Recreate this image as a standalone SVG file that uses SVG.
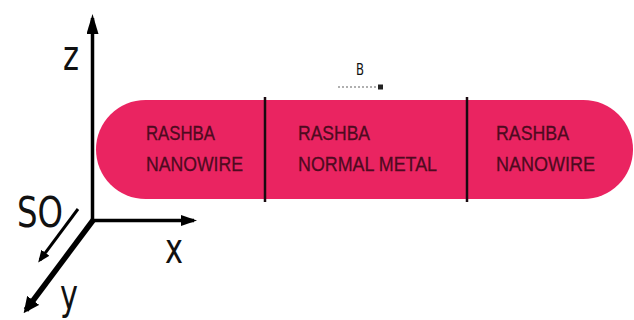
<svg xmlns="http://www.w3.org/2000/svg" width="634" height="320" viewBox="0 0 634 320">
  <style>
    .axis { stroke: #000; stroke-linecap: butt; fill: none; }
    .lbl { font-family: "DejaVu Sans", "Liberation Sans", sans-serif; fill: #111; font-size: 42px; }
    .seg { font-family: "Liberation Sans", Arial, sans-serif; font-size: 21px; fill: #4e0a20; stroke: #4e0a20; stroke-width: 0.3; }
    .div { stroke: #1a0a10; stroke-width: 2.5; }
  </style>
  <defs>
    <!-- arrowheads sized in user units -->
    <marker id="ahz" viewBox="0 0 20 12" refX="16" refY="6" markerWidth="20" markerHeight="12" orient="auto" markerUnits="userSpaceOnUse">
      <path d="M0,0 L20,6 L0,12 Z" fill="#000"/>
    </marker>
    <marker id="ahx" viewBox="0 0 16 11" refX="13" refY="5.5" markerWidth="16" markerHeight="11" orient="auto" markerUnits="userSpaceOnUse">
      <path d="M0,0 L16,5.5 L0,11 Z" fill="#000"/>
    </marker>
    <marker id="ahy" viewBox="0 0 16 15" refX="12" refY="7.5" markerWidth="16" markerHeight="15" orient="auto" markerUnits="userSpaceOnUse">
      <path d="M0,0 L16,7.5 L0,15 Z" fill="#000"/>
    </marker>
    <marker id="ahso" viewBox="0 0 12 10" refX="9" refY="5" markerWidth="12" markerHeight="10" orient="auto" markerUnits="userSpaceOnUse">
      <path d="M0,0 L12,5 L0,10 Z" fill="#000"/>
    </marker>
  </defs>
  <rect width="634" height="320" fill="#ffffff"/>

  <!-- wire: three segments in one rounded bar -->
  <g id="wire">
    <rect x="96" y="100" width="537" height="99" rx="49.5" ry="49.5" fill="#ea2461"/>
  </g>
  <g id="left-nanowire">
    <text class="seg" x="146" y="140" textLength="69" lengthAdjust="spacingAndGlyphs">RASHBA</text>
    <text class="seg" x="146" y="171" textLength="97" lengthAdjust="spacingAndGlyphs">NANOWIRE</text>
  </g>
  <g id="normal-metal">
    <text class="seg" x="298" y="140" textLength="72" lengthAdjust="spacingAndGlyphs">RASHBA</text>
    <text class="seg" x="298" y="171" textLength="139" lengthAdjust="spacingAndGlyphs">NORMAL METAL</text>
  </g>
  <g id="right-nanowire">
    <text class="seg" x="496" y="140" textLength="73" lengthAdjust="spacingAndGlyphs">RASHBA</text>
    <text class="seg" x="496" y="171" textLength="99" lengthAdjust="spacingAndGlyphs">NANOWIRE</text>
  </g>

  <!-- field label -->
  <g id="field">
    <text x="356" y="75" font-family="DejaVu Sans, sans-serif" font-size="16" fill="#111" textLength="8" lengthAdjust="spacingAndGlyphs">B</text>
    <line x1="338" y1="87" x2="378" y2="87" stroke="#b0b0b0" stroke-width="2" stroke-dasharray="2 2"/>
    <rect x="378" y="84.5" width="5" height="5" fill="#222"/>
  </g>

  <g id="connectors">
    <!-- interfaces between segments -->
    <line class="div" x1="265" y1="97" x2="265" y2="202"/>
    <line class="div" x1="467" y1="97" x2="467" y2="202"/>
    <!-- coordinate axes -->
    <line class="axis" x1="92.5" y1="222" x2="92.5" y2="18" stroke-width="3.5" marker-end="url(#ahz)"/>
    <line class="axis" x1="91" y1="220.5" x2="194" y2="220.5" stroke-width="3.5" marker-end="url(#ahx)"/>
    <line class="axis" x1="94" y1="219" x2="26" y2="310" stroke-width="5.5" marker-end="url(#ahy)"/>
    <line class="axis" x1="78" y1="209" x2="40" y2="260" stroke-width="3" marker-end="url(#ahso)"/>
  </g>

  <g id="axis-labels">
    <text class="lbl" x="63" y="70" textLength="16" lengthAdjust="spacingAndGlyphs">z</text>
    <text class="lbl" x="17" y="227" textLength="46" lengthAdjust="spacingAndGlyphs">SO</text>
    <text class="lbl" x="165" y="263" textLength="18" lengthAdjust="spacingAndGlyphs">x</text>
    <text class="lbl" x="60" y="309" textLength="18" lengthAdjust="spacingAndGlyphs">y</text>
  </g>
</svg>
